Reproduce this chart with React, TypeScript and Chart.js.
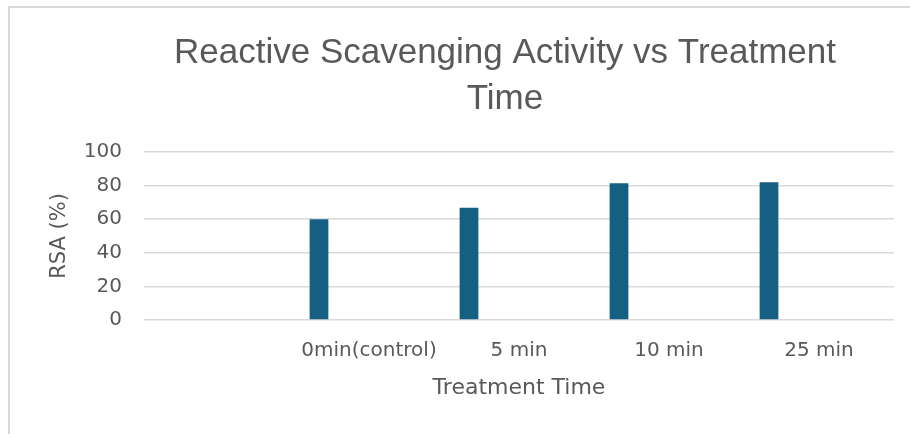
import React, { useEffect, useRef } from "react";
import { Chart, registerables } from "chart.js";

Chart.register(...registerables);

const categories: string[] = ["", "0min(control)", "5 min", "10 min", "25 min"];
const rsaValues: (number | null)[] = [null, 60, 66.8, 81.4, 82];
const emptySeriesA: (number | null)[] = [null, null, null, null, null];
const emptySeriesB: (number | null)[] = [null, null, null, null, null];
const yTicks: number[] = [0, 20, 40, 60, 80, 100];

const titleLines = ["Reactive Scavenging Activity vs Treatment", "Time"];
const xTitle = "Treatment Time";
const yTitle = "RSA (%)";

const TEXT = "#595959";
const GRID = "#d9d9d9";
const BAR = "#156082";
const SANS = "'DejaVu Sans', sans-serif";

export default function App() {
  const ref = useRef<HTMLCanvasElement | null>(null);

  useEffect(() => {
    if (!ref.current) return;
    const titleShift = {
      id: "titleShift",
      afterLayout(chart: any) {
        const tb = chart.titleBlock;
        if (tb) {
          tb.left = 116;
          tb.right = 894;
        }
      },
    };
    const chart = new Chart(ref.current, {
      type: "bar",
      data: {
        labels: categories,
        datasets: [
          { label: "RSA", data: rsaValues, backgroundColor: BAR },
          { label: "A", data: emptySeriesA, backgroundColor: BAR },
          { label: "B", data: emptySeriesB, backgroundColor: BAR },
        ],
      },
      options: {
        responsive: false,
        animation: false,
        devicePixelRatio: 1,
        layout: { padding: { left: 0, right: 16, top: 0, bottom: 28.8 } },
        datasets: {
          bar: { categoryPercentage: 1, barPercentage: 0.375 },
        },
        plugins: {
          legend: { display: false },
          tooltip: { enabled: false },
          title: {
            display: true,
            text: titleLines,
            color: TEXT,
            font: { family: "'Liberation Sans', Arial, sans-serif", size: 35, weight: "normal", lineHeight: 46 / 35 },
            padding: { top: 30, bottom: 30 },
          },
        },
        scales: {
          x: {
            grid: { display: false, drawTicks: false },
            border: { display: false },
            ticks: { color: TEXT, font: { family: SANS, size: 20 }, padding: 19, maxRotation: 0, autoSkip: false },
            title: {
              display: true,
              text: xTitle,
              color: TEXT,
              font: { family: SANS, size: 22 },
              padding: { top: -7.2, bottom: 4 },
            },
          },
          y: {
            min: 0,
            max: 100,
            afterFit(scale: any) {
              scale.width = 144;
            },
            afterBuildTicks(scale: any) {
              scale.ticks = yTicks.map((v) => ({ value: v }));
            },
            grid: { color: GRID, lineWidth: 1.5, drawTicks: false },
            border: { display: false },
            ticks: { color: TEXT, font: { family: SANS, size: 20 }, padding: 22 },
            title: {
              display: true,
              text: yTitle,
              color: TEXT,
              font: { family: SANS, size: 21 },
              padding: { top: 47.4, bottom: 4 },
            },
          },
        },
      },
      plugins: [titleShift],
    } as any);
    return () => chart.destroy();
  }, []);

  return (
    <div style={{ position: "absolute", left: 0, top: 0, width: 910, height: 434, background: "#fff" }}>
      <div
        style={{
          position: "absolute",
          left: 8,
          top: 6,
          right: 0,
          bottom: 0,
          borderTop: "2px solid #d9d9d9",
          borderLeft: "2px solid #d9d9d9",
        }}
      />
      <canvas ref={ref} width={910} height={434} style={{ position: "absolute", left: 0, top: 0, width: 910, height: 434 }} />
    </div>
  );
}
